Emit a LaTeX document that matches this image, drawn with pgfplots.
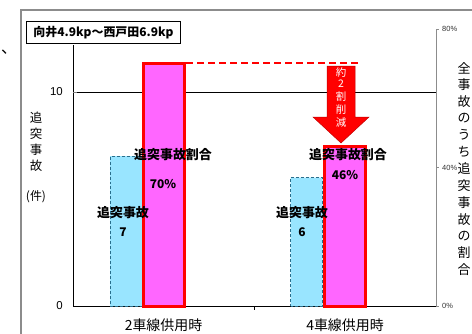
\documentclass[border=0pt]{standalone}
\usepackage{pgfplots}
\pgfplotsset{compat=1.18}
\usepackage{fontspec}
\setmainfont{Liberation Sans}
\newfontfamily\jp{Noto Sans CJK JP}
\definecolor{cyanbar}{RGB}{153,229,255}
\definecolor{cyanedge}{RGB}{40,110,140}
\definecolor{pinkbar}{RGB}{255,102,255}
\definecolor{framegray}{RGB}{140,140,140}
\begin{document}
\begin{tikzpicture}[x=1bp,y=1bp]
\useasboundingbox (0,0) rectangle (472,333);
\fill[white] (0,0) rectangle (472,333);
% outer frame
\draw[framegray, line width=1.2bp] (21,-5) -- (21,323) -- (480,323);
% stray mark
\node[font=\jp\fontsize{16}{16}\selectfont, inner sep=0pt] at (9,281) {、};
% axis lines and gridline
\draw[black, line width=0.9bp] (73,241) -- (436,241);
\draw[black, line width=0.9bp] (73,288) -- (73,27) -- (436,27);
\draw[black, line width=0.8bp] (254,27) -- (254,23);
\draw[gray, line width=0.6bp] (73,241) -- (77,241);
\draw[framegray, line width=0.8bp] (436,27) -- (436,304);
\foreach \yy in {27,165.5,304} \draw[framegray, line width=0.6bp] (436,\yy) -- (439,\yy);
% tick labels
\node[anchor=east, font=\fontsize{11.5}{12}\selectfont, inner sep=0pt] at (63,241) {10};
\node[anchor=east, font=\fontsize{11.5}{12}\selectfont, inner sep=0pt] at (63,27) {0};
\node[anchor=west, font=\fontsize{7.5}{8}\selectfont, text=black!80, inner sep=0pt] at (442,304) {80\%};
\node[anchor=west, font=\fontsize{7.5}{8}\selectfont, text=black!80, inner sep=0pt] at (442,165.5) {40\%};
\node[anchor=west, font=\fontsize{7.5}{8}\selectfont, text=black!80, inner sep=0pt] at (442,27) {0\%};

% primary axis: number of rear-end accidents
\begin{axis}[at={(73bp,27bp)}, anchor=south west, scale only axis,
  width=363bp, height=277bp, xmin=0, xmax=2, ymin=0, ymax=12.944,
  hide axis, clip=false]
\addplot[ybar, bar width=32bp, bar shift=0pt, fill=cyanbar, draw=cyanedge,
  densely dashed, line width=0.6bp] coordinates {(0.292,7) (1.2865,6)};
\end{axis}
% secondary axis: share of rear-end accidents (%)
\begin{axis}[at={(73bp,27bp)}, anchor=south west, scale only axis,
  width=363bp, height=277bp, xmin=0, xmax=2, ymin=0, ymax=80,
  hide axis, clip=false]
\addplot[ybar, bar width=41bp, bar shift=0pt, fill=pinkbar, draw=red,
  line width=3bp] coordinates {(0.5,70) (1.5,46)};
\end{axis}

% dashed reference line
\draw[red, line width=1.8bp, dash pattern=on 7bp off 4bp] (186,270) -- (360,270);
% arrow
\filldraw[fill=red, draw=red!75!black, line width=0.5bp]
  (327,267) -- (355,267) -- (355,216) -- (369,216) -- (341,190) -- (313,216) -- (327,216) -- cycle;
\foreach \c/\py in {約/72.5, 2/83.5, 割/97, 削/110, 減/123}
  \node[text=white, font=\jp\fontsize{10.5}{11}\selectfont, inner sep=0pt] at (341,333-\py) {\c};

% data labels
\node[font=\jp\bfseries\fontsize{13}{13}\selectfont, inner sep=0pt] at (173,178) {追突事故割合};
\node[font=\jp\bfseries\fontsize{12}{12}\selectfont, inner sep=0pt] at (163,149) {70\%};
\node[font=\jp\bfseries\fontsize{13}{13}\selectfont, inner sep=0pt] at (123,120) {追突事故};
\node[font=\jp\bfseries\fontsize{12}{12}\selectfont, inner sep=0pt] at (123,101) {7};
\node[font=\jp\bfseries\fontsize{13}{13}\selectfont, inner sep=0pt] at (348,178) {追突事故割合};
\node[font=\jp\bfseries\fontsize{12}{12}\selectfont, inner sep=0pt] at (345,158) {46\%};
\node[font=\jp\bfseries\fontsize{13}{13}\selectfont, inner sep=0pt] at (302,120) {追突事故};
\node[font=\jp\bfseries\fontsize{12}{12}\selectfont, inner sep=0pt] at (302,101) {6};

% title box
\node[draw=black, line width=1bp, fill=white, minimum width=153bp, minimum height=21bp,
  inner sep=0pt, font=\jp\bfseries\fontsize{12}{12}\selectfont] at (103.5,300.5) {向井4.9kp～西戸田6.9kp};

% left axis title
\foreach \c/\py in {追/118, 突/134, 事/150, 故/166}
  \node[font=\jp\fontsize{12.5}{13}\selectfont, inner sep=0pt] at (36,333-\py) {\c};
\node[font=\jp\fontsize{12}{12}\selectfont, inner sep=0pt] at (36,136) {(件)};
% right axis title
\foreach \c [count=\i from 0] in {全,事,故,の,う,ち,追,突,事,故,の,割,合}
  \node[font=\jp\fontsize{13}{13}\selectfont, inner sep=0pt] at (464,265-16.8*\i) {\c};

% category labels
\node[font=\jp\fontsize{14}{14}\selectfont, inner sep=0pt] at (163.5,8) {2車線供用時};
\node[font=\jp\fontsize{14}{14}\selectfont, inner sep=0pt] at (345,8) {4車線供用時};
\end{tikzpicture}
\end{document}
